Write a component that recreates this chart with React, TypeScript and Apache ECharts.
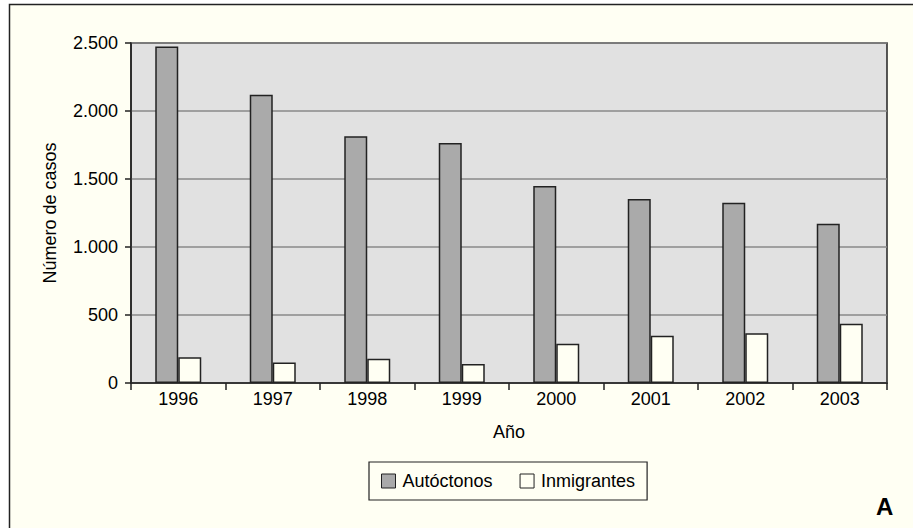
import React, { useEffect, useRef } from "react";
import * as echarts from "echarts";

const categories = ["1996", "1997", "1998", "1999", "2000", "2001", "2002", "2003"];
const autoctonos = [2475, 2120, 1815, 1765, 1448, 1353, 1326, 1171];
const inmigrantes = [190, 150, 178, 140, 289, 348, 365, 436];
const yTicks = [0, 500, 1000, 1500, 2000, 2500];

const fmt = (v: number) => String(v).replace(/\B(?=(\d{3})+(?!\d))/g, ".");

export default function App() {
  const ref = useRef<HTMLDivElement>(null);
  useEffect(() => {
    if (!ref.current) return;
    const chart = echarts.init(ref.current, undefined, { renderer: "svg" });
    const font = "'Liberation Sans', Arial, Helvetica, sans-serif";
    chart.setOption({
      animation: false,
      backgroundColor: "#ffffff",
      textStyle: { fontFamily: font },
      graphic: [
        {
          type: "rect",
          z: -10,
          silent: true,
          shape: { x: 9.5, y: 4.5, width: 920, height: 540 },
          style: { fill: "#fffff3", stroke: "#222", lineWidth: 1.5 },
        },
        {
          type: "rect",
          z: -5,
          silent: true,
          shape: { x: 131, y: 43, width: 756, height: 340 },
          style: { fill: "#e1e1e1", stroke: "#222", lineWidth: 1.5 },
        },
        {
          type: "text",
          left: 876,
          top: 494,
          style: { text: "A", font: `bold 24px ${font}`, fill: "#000" },
        },
      ],
      grid: { left: 131, top: 43, width: 756, height: 340, containLabel: false },
      legend: {
        left: 369,
        top: 462,
        orient: "horizontal",
        padding: [10, 12, 10, 12],
        itemGap: 27,
        itemWidth: 14,
        itemHeight: 14,
        icon: "rect",
        borderColor: "#222",
        borderWidth: 1.2,
        textStyle: { fontSize: 18, color: "#000", fontFamily: font, padding: [0, 0, 0, 2] },
        data: [
          { name: "Autóctonos", itemStyle: { color: "#aaaaaa", borderColor: "#222", borderWidth: 1 } },
          { name: "Inmigrantes", itemStyle: { color: "#fffff3", borderColor: "#222", borderWidth: 1 } },
        ],
      },
      xAxis: {
        type: "category",
        data: categories,
        name: "Año",
        nameLocation: "middle",
        nameGap: 40,
        nameTextStyle: { fontSize: 18, color: "#000", fontFamily: font },
        axisLine: { lineStyle: { color: "#222", width: 1.5 } },
        axisTick: { show: true, alignWithLabel: false, length: 7, lineStyle: { color: "#222", width: 1.5 } },
        axisLabel: { fontSize: 18, color: "#000", margin: 7, fontFamily: font },
        splitLine: { show: false },
      },
      yAxis: {
        type: "value",
        min: 0,
        max: 2500,
        interval: 500,
        name: "Número de casos",
        nameLocation: "middle",
        nameGap: 72,
        nameRotate: 90,
        nameTextStyle: { fontSize: 18, color: "#000", fontFamily: font },
        axisLine: { show: true, lineStyle: { color: "#222", width: 1.5 } },
        axisTick: { show: true, length: 6, lineStyle: { color: "#222", width: 1.5 } },
        axisLabel: {
          fontSize: 18,
          color: "#000",
          margin: 13,
          fontFamily: font,
          formatter: (v: number) => (yTicks.includes(v) ? fmt(v) : ""),
        },
        splitLine: { show: true, lineStyle: { color: "#888", width: 1.5 } },
      },
      series: [
        {
          name: "Autóctonos",
          type: "bar",
          data: autoctonos,
          barWidth: 23,
          barGap: "0%",
          itemStyle: { color: "#aaaaaa", borderColor: "#222", borderWidth: 1.5 },
        },
        {
          name: "Inmigrantes",
          type: "bar",
          data: inmigrantes,
          barWidth: 23,
          barGap: "0%",
          itemStyle: { color: "#fffff3", borderColor: "#222", borderWidth: 1.5 },
        },
      ],
    });
    return () => chart.dispose();
  }, []);
  return (
    <div
      ref={ref}
      style={{ position: "fixed", left: 0, top: 0, width: 913, height: 528 }}
    />
  );
}
